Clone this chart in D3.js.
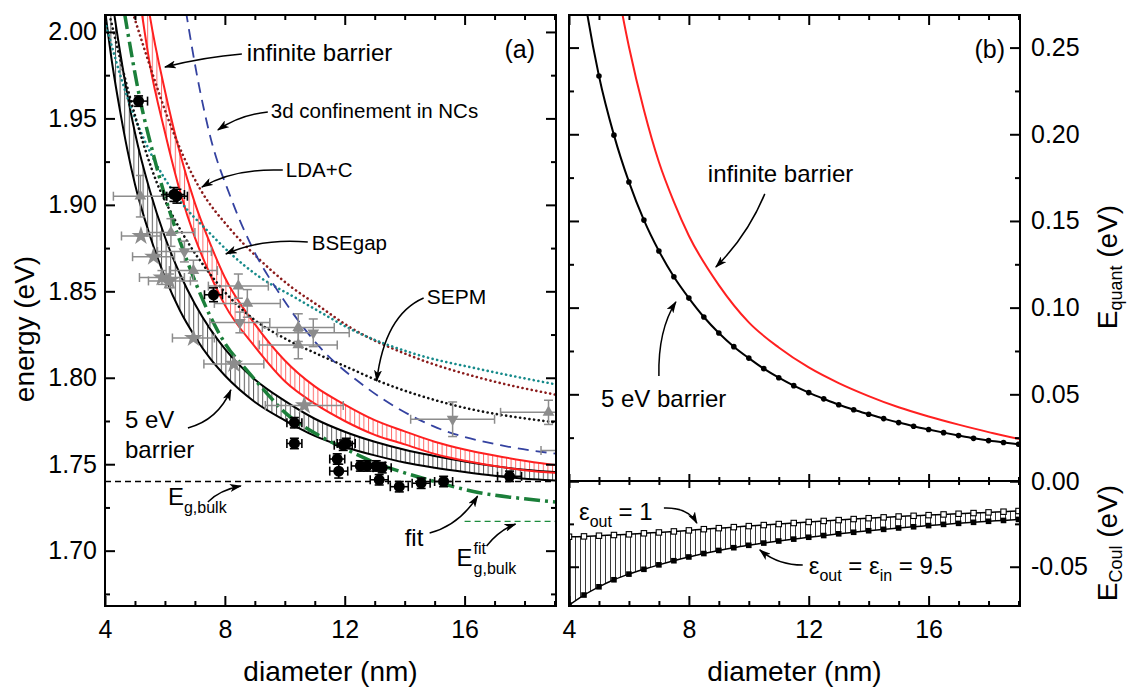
<!DOCTYPE html>
<html>
<head>
<meta charset="utf-8">
<title>band gap vs diameter</title>
<script src="https://cdn.jsdelivr.net/npm/d3@7"></script>
<style>
  body { margin: 0; background: #fff; }
  text { font-family: "Liberation Sans", Arial, sans-serif; fill: #000; }
</style>
</head>
<body>
<svg id="chart" width="1127" height="687"></svg>
<script>

// ---------- panel (a): energy (eV) vs diameter (nm) ----------
// 5 eV barrier band: lower edge eps_out = eps_in, upper edge eps_out = 1
var bandDiam  = [4.0, 4.25, 4.5, 4.75, 5.0, 5.5, 6.0, 6.5, 7.0, 7.5, 8.0, 9.0, 10, 11, 12, 13, 14, 15, 16, 17, 18, 19, 19.1];
var barrierLo = [2.0126, 1.9806, 1.9545, 1.9315, 1.9119, 1.8821, 1.8582, 1.8389, 1.8239, 1.8113, 1.8013, 1.786, 1.7754, 1.7664, 1.760, 1.7551, 1.751, 1.748, 1.7455, 1.7433, 1.7416, 1.7406, 1.7405];
var barrierHi = [2.0525, 2.0176, 1.9887, 1.9634, 1.9417, 1.908, 1.8814, 1.86, 1.8427, 1.8284, 1.8167, 1.799, 1.7866, 1.7763, 1.7688, 1.763, 1.7584, 1.7548, 1.7516, 1.7489, 1.7468, 1.7455, 1.7454];
// infinite barrier band
var infDiam = [5.0, 5.25, 5.5, 6.0, 6.5, 7.0, 7.5, 8.0, 9, 10, 11, 12, 13, 14, 15, 16, 17, 18, 19, 19.1];
var infLo   = [2.04, 2.0085, 1.981, 1.942, 1.908, 1.881, 1.860, 1.842, 1.818, 1.798, 1.785, 1.775, 1.767, 1.7615, 1.756, 1.752, 1.749, 1.7465, 1.745, 1.7449];
var infHi   = [2.07, 2.038, 2.009, 1.966, 1.930, 1.901, 1.878, 1.858, 1.831, 1.810, 1.795, 1.7845, 1.7755, 1.769, 1.763, 1.7585, 1.755, 1.752, 1.7495, 1.7493];
// fit
var fitDiam = [4.65, 5.17, 5.6, 6.0, 6.5, 7.0, 7.5, 8.0, 8.75, 9.4, 10.0, 11.0, 12.0, 13.0, 14.0, 15.0, 16.5, 18.0, 19.1];
var fitE    = [2.011, 1.961, 1.930, 1.905, 1.879, 1.856, 1.836, 1.820, 1.804, 1.791, 1.780, 1.768, 1.759, 1.751, 1.745, 1.740, 1.7335, 1.730, 1.728];
// LDA+C
var ldaDiam = [4.93, 5.62, 6.08, 6.62, 7.18, 8.18, 9.18, 10.18, 11.18, 12.1, 14.3, 16.5, 19.1];
var ldaE    = [2.011, 1.974, 1.951, 1.928, 1.909, 1.886, 1.868, 1.853, 1.841, 1.830, 1.812, 1.800, 1.790];
// BSEgap
var bseDiam = [4.0, 4.75, 5.52, 6.52, 7.42, 8.18, 9.18, 10.28, 11.18, 12.1, 14.3, 16.5, 19.1];
var bseE    = [2.006, 1.962, 1.930, 1.902, 1.885, 1.872, 1.858, 1.847, 1.838, 1.829, 1.814, 1.805, 1.796];
// SEPM
var sepmDiam = [4.15, 4.9, 5.75, 6.25, 6.85, 7.42, 8.08, 8.95, 10.08, 11.18, 12.1, 13.15, 15.45, 19.1];
var sepmE    = [2.010, 1.958, 1.912, 1.894, 1.876, 1.862, 1.848, 1.834, 1.822, 1.813, 1.806, 1.798, 1.785, 1.774];
// 3d confinement in NCs
var confDiam = [6.7, 7.08, 7.52, 8.18, 8.95, 9.85, 11.1, 12.75, 14.95, 17.2, 19.1];
var confE    = [2.012, 1.974, 1.939, 1.905, 1.874, 1.848, 1.819, 1.794, 1.772, 1.761, 1.756];
// bulk gaps
var egBulk = 1.740;
var egBulkFit = 1.717;
var egFitFrom = 16.0;

// measured points (black)
var dataD    = [5.12, 6.3, 6.4, 7.62, 10.32, 10.32, 11.75, 11.8, 11.95, 12.05, 12.52, 12.75, 13.05, 13.25, 13.15, 13.82, 14.55, 15.3, 17.5];
var dataE    = [1.960, 1.906, 1.905, 1.848, 1.774, 1.762, 1.753, 1.746, 1.761, 1.762, 1.749, 1.749, 1.749, 1.748, 1.741, 1.737, 1.739, 1.740, 1.743];
var dataDErr = [0.3, 0.35, 0.35, 0.3, 0.25, 0.25, 0.25, 0.3, 0.3, 0.3, 0.3, 0.3, 0.3, 0.3, 0.3, 0.3, 0.3, 0.3, 0.4];
var dataEErr = [0.003, 0.004, 0.004, 0.004, 0.003, 0.003, 0.003, 0.004, 0.003, 0.003, 0.003, 0.003, 0.003, 0.003, 0.003, 0.003, 0.003, 0.003, 0.003];
// literature points (gray)
var starD    = [5.2, 5.62, 5.9, 6.15, 6.95, 8.3, 10.65];
var starE    = [1.882, 1.870, 1.858, 1.856, 1.823, 1.808, 1.784];
var starDErr = [0.65, 0.7, 0.75, 0.7, 0.7, 1.0, 1.3];
var starEErr = [0, 0, 0.004, 0.004, 0, 0, 0];
var triUpD    = [5.18, 6.2, 6.95, 8.45, 8.75, 10.45, 10.45, 18.8];
var triUpE    = [1.905, 1.884, 1.862, 1.853, 1.843, 1.829, 1.819, 1.780];
var triUpDErr = [0.9, 0.8, 0.8, 1.0, 1.1, 1.2, 1.3, 1.6];
var triUpEErr = [0.012, 0.008, 0.006, 0.007, 0.008, 0.008, 0.008, 0.007];
var triDnD    = [6.65, 8.5, 10.95, 15.6, 19.35];
var triDnE    = [1.873, 1.832, 1.826, 1.776, 1.758];
var triDnDErr = [0.9, 1.0, 1.2, 1.4, 0.8];
var triDnEErr = [0.006, 0.006, 0.008, 0.01, 0.005];

// ---------- panel (b) ----------
var diam = [4.0, 4.5, 5.0, 5.5, 6.0, 6.5, 7.0, 7.5, 8.0, 8.5, 9.0, 9.5, 10, 10.5, 11, 11.5, 12, 12.5, 13, 13.5, 14, 14.5, 15, 15.5, 16, 16.5, 17, 17.5, 18, 18.5, 19];
var quant5 = [0.345, 0.281, 0.2336, 0.1995, 0.1725, 0.1505, 0.1327, 0.1178, 0.1055, 0.0946, 0.0854, 0.0775, 0.0709, 0.0648, 0.0596, 0.0550, 0.0510, 0.0474, 0.0440, 0.0411, 0.0385, 0.0360, 0.0337, 0.0316, 0.0297, 0.0279, 0.0262, 0.0246, 0.0233, 0.0222, 0.0212];
var infDiamB = [5.5, 6.0, 6.5, 7.0, 7.5, 8.0, 9, 10, 11, 12, 13, 14, 15, 16, 17, 18, 19, 19.1];
var quantInf = [0.295, 0.2505, 0.214, 0.184, 0.161, 0.1415, 0.113, 0.0915, 0.077, 0.0655, 0.0565, 0.049, 0.0425, 0.0372, 0.0325, 0.0282, 0.0244, 0.0241];
var coulOut1 = [-0.0325, -0.0323, -0.0319, -0.0315, -0.0311, -0.0305, -0.0300, -0.0294, -0.0288, -0.0281, -0.0275, -0.0269, -0.0263, -0.0257, -0.0251, -0.0245, -0.0239, -0.0233, -0.0228, -0.0222, -0.0217, -0.0212, -0.0207, -0.0203, -0.0199, -0.0195, -0.0191, -0.0187, -0.0183, -0.0179, -0.0175];
var coulIn   = [-0.0724, -0.0665, -0.0617, -0.0576, -0.0543, -0.0515, -0.0489, -0.0465, -0.0443, -0.0423, -0.0405, -0.0389, -0.0375, -0.0362, -0.0350, -0.0339, -0.0328, -0.0318, -0.0308, -0.0299, -0.0290, -0.0282, -0.0274, -0.0267, -0.0260, -0.0253, -0.0247, -0.0241, -0.0235, -0.0230, -0.0224];

// ticks
var xMajor = [4, 8, 12, 16];
var xMinor = [5, 6, 7, 9, 10, 11, 13, 14, 15, 17, 18, 19];
var eMajor = [1.70, 1.75, 1.80, 1.85, 1.90, 1.95, 2.00];
var eMinor = [1.675, 1.725, 1.775, 1.825, 1.875, 1.925, 1.975];
var qMajor = [0, 0.05, 0.10, 0.15, 0.20, 0.25];
var qMinor = [0.025, 0.075, 0.125, 0.175, 0.225];
var cMajor = [-0.05, 0];
var cMinor = [-0.025];

var FONT = "Liberation Sans, Arial, sans-serif";
var svg = d3.select("#chart");
var defs = svg.append("defs");

var xa = d3.scaleLinear().domain([4, 19.05]).range([105, 556]);
var ya = d3.scaleLinear().domain([1.668, 2.0098]).range([606, 15]);
var xb = d3.scaleLinear().domain([4, 19.05]).range([569, 1020]);
var yq = d3.scaleLinear().domain([0, 0.2688]).range([481, 15]);
var yc = d3.scaleLinear().domain([-0.0729, 0]).range([606, 481]);

function clip(id, x0, y0, x1, y1) {
  defs.append("clipPath").attr("id", id).append("rect")
    .attr("x", x0).attr("y", y0).attr("width", x1 - x0).attr("height", y1 - y0);
}
clip("clipA", 105, 15, 556, 606);
clip("clipQ", 569, 15, 1020, 481);
clip("clipC", 569, 481, 1020, 606);

function hatch(id, color, step) {
  var p = defs.append("pattern").attr("id", id)
    .attr("patternUnits", "userSpaceOnUse").attr("width", step).attr("height", 10);
  p.append("rect").attr("x", 0).attr("y", 0).attr("width", 1).attr("height", 10).attr("fill", color);
}
hatch("hatchBlack", "#5a5a5a", 4.6);
hatch("hatchRed", "#ff6a6a", 4.6);
hatch("hatchCoul", "#3a3a3a", 5);

defs.append("marker").attr("id", "arrow")
  .attr("viewBox", "0 0 12 8").attr("refX", 11).attr("refY", 4)
  .attr("markerWidth", 12).attr("markerHeight", 8)
  .attr("markerUnits", "userSpaceOnUse").attr("orient", "auto")
  .append("path").attr("d", "M0,0 L12,4 L0,8 L3,4 Z").attr("fill", "#000");

function linePath(xs, ys, sx, sy) {
  return d3.line()
    .x(function (d, i) { return sx(xs[i]); })
    .y(function (d, i) { return sy(ys[i]); })
    .curve(d3.curveMonotoneX)(xs);
}
function bandPath(xs, lo, hi, sx, sy) {
  return d3.area()
    .x(function (d, i) { return sx(xs[i]); })
    .y0(function (d, i) { return sy(lo[i]); })
    .y1(function (d, i) { return sy(hi[i]); })
    .curve(d3.curveMonotoneX)(xs);
}
function drawLine(g, xs, ys, sx, sy, color, width, dash, cap) {
  return g.append("path").attr("d", linePath(xs, ys, sx, sy))
    .attr("fill", "none").attr("stroke", color).attr("stroke-width", width)
    .attr("stroke-dasharray", dash || null).attr("stroke-linecap", cap || "butt");
}
function errorBars(g, xs, ys, xe, ye, sx, sy, color, width) {
  xs.forEach(function (d, i) {
    var x = sx(d), y = sy(ys[i]);
    if (xe[i]) {
      var x0 = sx(d - xe[i]), x1 = sx(d + xe[i]);
      g.append("line").attr("x1", x0).attr("x2", x1).attr("y1", y).attr("y2", y);
      g.append("line").attr("x1", x0).attr("x2", x0).attr("y1", y - 4.5).attr("y2", y + 4.5);
      g.append("line").attr("x1", x1).attr("x2", x1).attr("y1", y - 4.5).attr("y2", y + 4.5);
    }
    if (ye[i]) {
      var y0 = sy(ys[i] - ye[i]), y1 = sy(ys[i] + ye[i]);
      g.append("line").attr("x1", x).attr("x2", x).attr("y1", y0).attr("y2", y1);
      g.append("line").attr("x1", x - 4.5).attr("x2", x + 4.5).attr("y1", y0).attr("y2", y0);
      g.append("line").attr("x1", x - 4.5).attr("x2", x + 4.5).attr("y1", y1).attr("y2", y1);
    }
  });
  g.selectAll("line").attr("stroke", color).attr("stroke-width", width);
}
function symbols(g, xs, ys, sx, sy, type, size, color, rot) {
  g.selectAll(null).data(xs).enter().append("path")
    .attr("d", d3.symbol().type(type).size(size))
    .attr("transform", function (d, i) {
      return "translate(" + sx(d) + "," + sy(ys[i]) + ")" + (rot ? " rotate(" + rot + ")" : "");
    })
    .attr("fill", color);
}

// ================= panel (a) =================
var gA = svg.append("g").attr("clip-path", "url(#clipA)");
gA.append("path").attr("d", bandPath(bandDiam, barrierLo, barrierHi, xa, ya)).attr("fill", "url(#hatchBlack)");
gA.append("path").attr("d", bandPath(infDiam, infLo, infHi, xa, ya)).attr("fill", "url(#hatchRed)");

drawLine(gA, [4, 19.05], [egBulk, egBulk], xa, ya, "#000", 1.3, "6,4");
drawLine(gA, [egFitFrom, 19.05], [egBulkFit, egBulkFit], xa, ya, "#1c8c3c", 1.3, "6,4");

drawLine(gA, bandDiam, barrierLo, xa, ya, "#000", 2);
drawLine(gA, bandDiam, barrierHi, xa, ya, "#000", 2);
drawLine(gA, infDiam, infLo, xa, ya, "#ff2020", 2);
drawLine(gA, infDiam, infHi, xa, ya, "#ff2020", 2);

drawLine(gA, ldaDiam, ldaE, xa, ya, "#8b1c1c", 2.6, "0.1,4.6", "round");
drawLine(gA, bseDiam, bseE, xa, ya, "#168a8a", 2.6, "0.1,4.6", "round");
drawLine(gA, sepmDiam, sepmE, xa, ya, "#111", 2.6, "0.1,4.6", "round");
drawLine(gA, confDiam, confE, xa, ya, "#3442a0", 1.8, "11,7");
drawLine(gA, fitDiam, fitE, xa, ya, "#1b7f3a", 3.5, "16,5,3,5");

var gGray = gA.append("g");
errorBars(gGray.append("g"), starD, starE, starDErr, starEErr, xa, ya, "#8c8c8c", 1.5);
errorBars(gGray.append("g"), triUpD, triUpE, triUpDErr, triUpEErr, xa, ya, "#8c8c8c", 1.5);
errorBars(gGray.append("g"), triDnD, triDnE, triDnDErr, triDnEErr, xa, ya, "#8c8c8c", 1.5);
symbols(gGray, starD, starE, xa, ya, d3.symbolStar, 110, "#8c8c8c");
symbols(gGray, triUpD, triUpE, xa, ya, d3.symbolTriangle, 60, "#8c8c8c");
symbols(gGray, triDnD, triDnE, xa, ya, d3.symbolTriangle, 60, "#8c8c8c", 180);

var gData = gA.append("g");
errorBars(gData.append("g"), dataD, dataE, dataDErr, dataEErr, xa, ya, "#000", 1.6);
gData.selectAll("circle").data(dataD).enter().append("circle")
  .attr("cx", function (d) { return xa(d); })
  .attr("cy", function (d, i) { return ya(dataE[i]); })
  .attr("r", 5.5).attr("fill", "#000");

// ================= panel (b) =================
var gQ = svg.append("g").attr("clip-path", "url(#clipQ)");
drawLine(gQ, infDiamB, quantInf, xb, yq, "#ff2020", 2);
drawLine(gQ, diam, quant5, xb, yq, "#000", 2);
gQ.selectAll("circle").data(diam).enter().append("circle")
  .attr("cx", function (d) { return xb(d); })
  .attr("cy", function (d, i) { return yq(quant5[i]); })
  .attr("r", 2.8).attr("fill", "#000");

var gC = svg.append("g").attr("clip-path", "url(#clipC)");
gC.append("path").attr("d", bandPath(diam, coulIn, coulOut1, xb, yc)).attr("fill", "url(#hatchCoul)");
drawLine(gC, diam, coulOut1, xb, yc, "#000", 1.5);
drawLine(gC, diam, coulIn, xb, yc, "#000", 1.5);
gC.selectAll("rect.open").data(diam).enter().append("rect").attr("class", "open")
  .attr("x", function (d) { return xb(d) - 2.7; })
  .attr("y", function (d, i) { return yc(coulOut1[i]) - 2.7; })
  .attr("width", 5.4).attr("height", 5.4).attr("fill", "#fff").attr("stroke", "#000").attr("stroke-width", 1.1);
gC.selectAll("rect.full").data(diam).enter().append("rect").attr("class", "full")
  .attr("x", function (d) { return xb(d) - 2.8; })
  .attr("y", function (d, i) { return yc(coulIn[i]) - 2.8; })
  .attr("width", 5.6).attr("height", 5.6).attr("fill", "#000");

// ================= axes & frames =================
function axis(kind, scale, at, major, minor, majLen, minLen, fmt, pad) {
  var make = { bottom: d3.axisBottom, top: d3.axisTop, left: d3.axisLeft, right: d3.axisRight }[kind];
  var tr = (kind === "bottom" || kind === "top") ? "translate(0," + at + ")" : "translate(" + at + ",0)";
  var gm = svg.append("g").attr("transform", tr)
    .call(make(scale).tickValues(minor).tickSize(-minLen).tickFormat(""));
  var gM = svg.append("g").attr("transform", tr)
    .call(make(scale).tickValues(major).tickSize(-majLen).tickPadding(pad || 3).tickFormat(fmt || ""));
  [gm, gM].forEach(function (a) {
    a.select(".domain").remove();
    a.selectAll("line").attr("stroke", "#000").attr("stroke-width", 2);
    a.attr("font-size", 25).attr("font-family", FONT);
  });
}
var fmtX = function (v) { return String(v); };
var fmt2 = function (v) { return v.toFixed(2); };

axis("bottom", xa, 606, xMajor, xMinor, 10, 5, fmtX, 14);
axis("top", xa, 15, xMajor, xMinor, 10, 5);
axis("left", ya, 105, eMajor, eMinor, 10, 5, fmt2, 8);
axis("right", ya, 556, eMajor, eMinor, 10, 5);

axis("bottom", xb, 606, xMajor, xMinor, 10, 5, fmtX, 14);
axis("top", xb, 15, xMajor, xMinor, 10, 5);
axis("bottom", xb, 481, xMajor, xMinor, 7, 4);
axis("top", xb, 481, xMajor, xMinor, 7, 4);
axis("left", yq, 569, qMajor, qMinor, 10, 5);
axis("right", yq, 1020, qMajor, qMinor, 10, 5, fmt2, 11);
axis("left", yc, 569, cMajor, cMinor, 10, 5);
axis("right", yc, 1020, cMajor, cMinor, 10, 5, function (v) { return v === 0 ? "" : v.toFixed(2); }, 11);

svg.append("rect").attr("x", 105).attr("y", 15).attr("width", 451).attr("height", 591)
  .attr("fill", "none").attr("stroke", "#000").attr("stroke-width", 2);
svg.append("rect").attr("x", 569).attr("y", 15).attr("width", 451).attr("height", 591)
  .attr("fill", "none").attr("stroke", "#000").attr("stroke-width", 2);
svg.append("line").attr("x1", 569).attr("x2", 1020).attr("y1", 481).attr("y2", 481)
  .attr("stroke", "#000").attr("stroke-width", 2);

// ================= titles =================
function rich(t, parts, size) {
  var shift = 0;
  parts.forEach(function (p) {
    var want = p.sub ? (p.dy || 6) : 0;
    t.append("tspan").attr("dy", want - shift)
      .attr("font-size", p.sub ? (p.size || size * 0.65) : size).text(p.t);
    shift = want;
  });
  return t;
}
function text(x, y, str, size, anchor) {
  return svg.append("text").attr("x", x).attr("y", y).attr("font-size", size)
    .attr("text-anchor", anchor || "start").text(str);
}

text(330.5, 681, "diameter (nm)", 28, "middle");
text(794.5, 681, "diameter (nm)", 28, "middle");
svg.append("text").attr("transform", "translate(34,329) rotate(-90)")
  .attr("text-anchor", "middle").attr("font-size", 28).text("energy (eV)");
rich(svg.append("text").attr("transform", "translate(1117,267) rotate(-90)").attr("text-anchor", "middle"),
  [{ t: "E" }, { t: "quant", sub: true, size: 18, dy: 5 }, { t: " (eV)" }], 28);
rich(svg.append("text").attr("transform", "translate(1117,543) rotate(-90)").attr("text-anchor", "middle"),
  [{ t: "E" }, { t: "Coul", sub: true, size: 18, dy: 5 }, { t: " (eV)" }], 28);

// ================= annotations =================
function arrow(sx, sy, p) {
  svg.append("path")
    .attr("d", "M" + sx(p[0][0]) + "," + sy(p[0][1]) + " Q" + sx(p[1][0]) + "," + sy(p[1][1]) +
      " " + sx(p[2][0]) + "," + sy(p[2][1]))
    .attr("fill", "none").attr("stroke", "#000").attr("stroke-width", 1.5)
    .attr("marker-end", "url(#arrow)");
}

// panel (a)
text(xa(17.33), ya(1.9849), "(a)", 25);
text(xa(8.733), ya(1.9832), "infinite barrier", 24);
arrow(xa, ya, [[8.567, 1.9872], [7.333, 1.9855], [6.0, 1.9797]]);
text(xa(9.533), ya(1.9502), "3d confinement in NCs", 20.5);
arrow(xa, ya, [[9.433, 1.9537], [8.5, 1.952], [7.767, 1.9433]]);
text(xa(10.033), ya(1.9161), "LDA+C", 20.5);
arrow(xa, ya, [[9.933, 1.9201], [8.333, 1.9213], [7.233, 1.9103]]);
text(xa(10.9), ya(1.874), "BSEgap", 20.5);
arrow(xa, ya, [[10.767, 1.8785], [9.233, 1.8808], [8.033, 1.8716]]);
text(xa(14.733), ya(1.8426), "SEPM", 21);
arrow(xa, ya, [[14.633, 1.8461], [13.333, 1.8363], [13.067, 1.7981]]);
text(xa(4.667), ya(1.771), "5 eV", 24);
text(xa(4.667), ya(1.7536), "barrier", 24);
arrow(xa, ya, [[6.767, 1.771], [7.767, 1.7756], [8.2, 1.793]]);
rich(svg.append("text").attr("x", xa(6.1)).attr("y", ya(1.7264)),
  [{ t: "E" }, { t: "g,bulk", sub: true, size: 16, dy: 8 }], 24);
arrow(xa, ya, [[7.433, 1.7282], [7.833, 1.7351], [8.533, 1.7374]]);
text(xa(14.0), ya(1.7027), "fit", 24);
arrow(xa, ya, [[14.833, 1.7102], [15.833, 1.7148], [16.433, 1.7316]]);
var efx = xa(15.733), efy = ya(1.6911);
text(efx, efy, "E", 24);
text(efx + 17, efy - 12, "fit", 16);
text(efx + 17, efy + 8, "g,bulk", 16);
arrow(xa, ya, [[16.733, 1.7027], [17.167, 1.712], [17.7, 1.7154]]);

// panel (b)
text(xb(17.533), yq(0.244), "(b)", 25);
text(xb(8.633), yq(0.1725), "infinite barrier", 24);
arrow(xb, yq, [[10.533, 0.1656], [9.967, 0.1419], [8.9, 0.1234]]);
text(xb(5.067), yq(0.0427), "5 eV barrier", 24);
arrow(xb, yq, [[7.0, 0.0606], [6.967, 0.0871], [7.567, 0.1033]]);
rich(svg.append("text").attr("x", xb(4.333)).attr("y", yc(-0.0227)),
  [{ t: "ε" }, { t: "out", sub: true, size: 16, dy: 7 }, { t: " = 1" }], 24);
arrow(xb, yc, [[7.167, -0.0157], [7.967, -0.0152], [8.267, -0.0245]]);
rich(svg.append("text").attr("x", xb(12.0)).attr("y", yc(-0.0542)),
  [{ t: "ε" }, { t: "out", sub: true, size: 16, dy: 7 }, { t: " = ε" }, { t: "in", sub: true, size: 16, dy: 7 }, { t: " = 9.5" }], 24);
arrow(xb, yc, [[11.8, -0.049], [10.967, -0.049], [10.367, -0.0402]]);
</script>
</body>
</html>
